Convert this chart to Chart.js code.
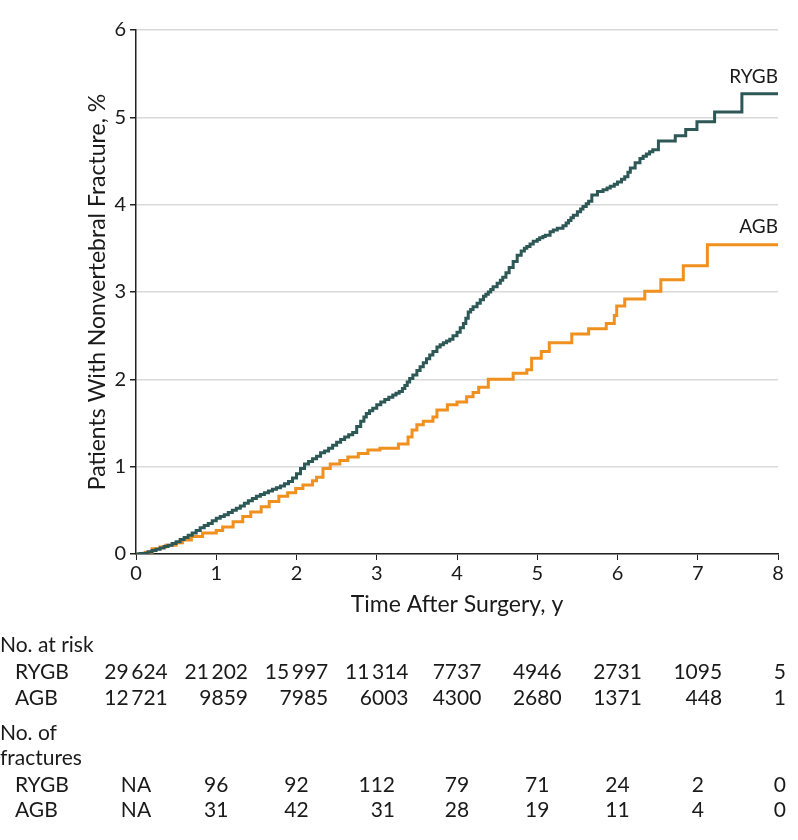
<!DOCTYPE html>
<html>
<head>
<meta charset="utf-8">
<script src="https://cdn.jsdelivr.net/npm/chart.js@4"></script>
<style>
  html, body { margin: 0; padding: 0; background: #fff; }
  #wrap { width: 798px; height: 840px; }
</style>
</head>
<body>
<div id="wrap"><canvas id="km-chart"></canvas></div>
<script>
// Cumulative incidence steps (time in years, percent)
const rygbTime = [0, 0.05, 0.1, 0.15, 0.2, 0.25, 0.3, 0.35, 0.4, 0.45, 0.5, 0.55, 0.6, 0.65, 0.7, 0.75, 0.8, 0.85, 0.9, 0.95,
  1.0, 1.05, 1.1, 1.15, 1.2, 1.25, 1.3, 1.35, 1.4, 1.45, 1.5, 1.55, 1.6, 1.65, 1.7, 1.75, 1.8, 1.85, 1.9, 1.95,
  2.0, 2.05, 2.1, 2.15, 2.2, 2.25, 2.3, 2.35, 2.4, 2.45, 2.5, 2.55, 2.6, 2.65, 2.7, 2.75, 2.8, 2.84, 2.87, 2.91, 2.95,
  3.0, 3.05, 3.1, 3.15, 3.2, 3.24, 3.28, 3.32, 3.35, 3.38, 3.41, 3.45, 3.5, 3.54, 3.58, 3.62, 3.66, 3.7, 3.75, 3.79,
  3.83, 3.87, 3.91, 3.95, 4.0, 4.04, 4.08, 4.11, 4.14, 4.17, 4.2, 4.25, 4.29, 4.33, 4.36, 4.39, 4.42, 4.45, 4.5, 4.54,
  4.57, 4.61, 4.65, 4.7, 4.75, 4.8, 4.84, 4.87, 4.91, 4.95, 5.0, 5.03, 5.07, 5.1, 5.16, 5.2, 5.25, 5.32, 5.36, 5.39,
  5.42, 5.45, 5.5, 5.54, 5.57, 5.61, 5.64, 5.68, 5.75, 5.82, 5.87, 5.91, 5.96, 6.0, 6.05, 6.09, 6.13, 6.16, 6.22,
  6.28, 6.32, 6.36, 6.4, 6.44, 6.51, 6.72, 6.85, 6.99, 7.21, 7.55, 8.0];
const rygbPct = [0, 0.005, 0.01, 0.025, 0.04, 0.055, 0.07, 0.085, 0.1, 0.12, 0.14, 0.165, 0.19, 0.215, 0.24, 0.27, 0.3, 0.325, 0.35, 0.38,
  0.41, 0.43, 0.45, 0.475, 0.5, 0.525, 0.55, 0.58, 0.61, 0.635, 0.66, 0.68, 0.7, 0.72, 0.74, 0.76, 0.78, 0.805, 0.83, 0.87,
  0.92, 0.98, 1.03, 1.06, 1.09, 1.12, 1.16, 1.18, 1.21, 1.245, 1.28, 1.31, 1.34, 1.365, 1.39, 1.46, 1.52, 1.57, 1.61, 1.64, 1.67,
  1.71, 1.74, 1.77, 1.795, 1.82, 1.84, 1.86, 1.895, 1.93, 1.97, 2.01, 2.05, 2.1, 2.145, 2.19, 2.235, 2.28, 2.32, 2.37, 2.395,
  2.42, 2.44, 2.46, 2.5, 2.54, 2.59, 2.64, 2.7, 2.77, 2.8, 2.83, 2.87, 2.91, 2.95, 2.975, 3.0, 3.03, 3.06, 3.1, 3.135,
  3.17, 3.22, 3.28, 3.35, 3.42, 3.47, 3.5, 3.52, 3.55, 3.58, 3.6, 3.62, 3.635, 3.65, 3.69, 3.71, 3.73, 3.76, 3.79, 3.82,
  3.85, 3.88, 3.92, 3.95, 3.98, 4.01, 4.04, 4.11, 4.15, 4.17, 4.19, 4.21, 4.235, 4.26, 4.29, 4.32, 4.37, 4.42, 4.48,
  4.53, 4.555, 4.58, 4.605, 4.63, 4.73, 4.79, 4.86, 4.95, 5.06, 5.27, 5.27];

const agbTime = [0, 0.12, 0.2, 0.3, 0.37, 0.5, 0.58, 0.69, 0.83, 1.0, 1.08, 1.21, 1.33, 1.43, 1.56, 1.66, 1.78, 1.89, 1.99,
  2.08, 2.2, 2.25, 2.33, 2.42, 2.54, 2.64, 2.77, 2.89, 3.04, 3.27, 3.39, 3.44, 3.5, 3.58, 3.7, 3.75, 3.88, 4.0, 4.12,
  4.2, 4.27, 4.39, 4.7, 4.87, 4.93, 5.05, 5.15, 5.43, 5.64, 5.86, 5.96, 5.99, 6.09, 6.34, 6.54, 6.82, 7.12, 8.0];
const agbPct = [0, 0.02, 0.06, 0.08, 0.1, 0.13, 0.16, 0.2, 0.24, 0.27, 0.31, 0.37, 0.43, 0.48, 0.54, 0.6, 0.66, 0.7, 0.75,
  0.79, 0.84, 0.88, 0.98, 1.03, 1.07, 1.11, 1.15, 1.19, 1.21, 1.26, 1.34, 1.42, 1.48, 1.52, 1.57, 1.65, 1.71, 1.74, 1.8,
  1.85, 1.91, 2.0, 2.07, 2.11, 2.24, 2.32, 2.42, 2.52, 2.58, 2.64, 2.73, 2.84, 2.92, 3.01, 3.14, 3.3, 3.54, 3.54];

// Table below the plot
const tableYears = [0, 1, 2, 3, 4, 5, 6, 7, 8];
const riskRYGB = [29624, 21202, 15997, 11314, 7737, 4946, 2731, 1095, 5];
const riskAGB = [12721, 9859, 7985, 6003, 4300, 2680, 1371, 448, 1];
const fracRYGB = ['NA', 96, 92, 112, 79, 71, 24, 2, 0];
const fracAGB = ['NA', 31, 42, 31, 28, 19, 11, 4, 0];

const RYGB_COLOR = '#2d5855';
const AGB_COLOR = '#f0901f';
const FONT = 'Lato';
const TEXT = '#1a1a1a';

function fmt(n) {
  if (typeof n !== 'number') return n;
  const s = String(n);
  return s.length >= 5 ? s.slice(0, s.length - 3) + '\u2009' + s.slice(-3) : s;
}

const toPoints = (t, v) => t.map((x, i) => ({ x, y: v[i] }));

const annotations = {
  id: 'annotations',
  afterDraw(chart) {
    const { ctx, scales: { x, y } } = chart;
    ctx.save();
    ctx.fillStyle = TEXT;
    ctx.textBaseline = 'middle';

    // series labels at end of curves
    ctx.font = `19px "${FONT}"`;
    ctx.textAlign = 'right';
    ctx.fillText('RYGB', x.getPixelForValue(8), y.getPixelForValue(rygbPct[rygbPct.length - 1]) - 17);
    ctx.fillText('AGB', x.getPixelForValue(8), y.getPixelForValue(agbPct[agbPct.length - 1]) - 18);

    // row labels
    ctx.font = `21px "${FONT}"`;
    ctx.textAlign = 'left';
    [['No. at risk', 645, 0], ['RYGB', 672, 15], ['AGB', 698, 15], ['No. of', 733, 0],
     ['fractures', 758, 0], ['RYGB', 785, 15], ['AGB', 810, 15]].forEach(([t, py, px]) => ctx.fillText(t, px, py));

    // value columns: the pair is right-aligned, centred on the tick by its wider entry
    const drawPair = (top, bottom, yTop, yBottom) => {
      tableYears.forEach((yr, i) => {
        const px = x.getPixelForValue(yr);
        const a = fmt(top[i]), b = fmt(bottom[i]);
        if (a === 'NA') {
          ctx.textAlign = 'center';
          ctx.fillText(a, px, yTop);
          ctx.fillText(b, px, yBottom);
          return;
        }
        const w = Math.max(ctx.measureText(a).width, ctx.measureText(b).width);
        const right = i === tableYears.length - 1 ? px + 8 : px + w / 2;
        ctx.textAlign = 'right';
        ctx.fillText(a, right, yTop);
        ctx.fillText(b, right, yBottom);
      });
    };
    drawPair(riskRYGB, riskAGB, 672, 698);
    drawPair(fracRYGB, fracAGB, 785, 810);
    ctx.restore();
  }
};

new Chart(document.getElementById('km-chart'), {
  type: 'line',
  data: {
    datasets: [
      {
        label: 'RYGB',
        data: toPoints(rygbTime, rygbPct),
        borderColor: RYGB_COLOR,
        borderWidth: 3,
        stepped: 'before',
        pointRadius: 0,
        fill: false
      },
      {
        label: 'AGB',
        data: toPoints(agbTime, agbPct),
        borderColor: AGB_COLOR,
        borderWidth: 3,
        stepped: 'before',
        pointRadius: 0,
        fill: false
      }
    ]
  },
  options: {
    responsive: true,
    maintainAspectRatio: false,
    animation: false,
    layout: { padding: { top: 30, right: 20, bottom: 222, left: 84 } },
    plugins: {
      legend: { display: false },
      tooltip: { enabled: false }
    },
    scales: {
      x: {
        type: 'linear',
        min: 0,
        max: 8,
        ticks: { stepSize: 1, color: TEXT, font: { family: FONT, size: 20 }, padding: 2 },
        grid: { drawOnChartArea: false, tickLength: 6, tickColor: '#222' },
        border: { color: '#222', width: 1.5 },
        title: {
          display: true,
          text: 'Time After Surgery, y',
          color: TEXT,
          font: { family: FONT, size: 23 },
          padding: 0
        },
        afterFit: s => { s.height = 64; }
      },
      y: {
        min: 0,
        max: 6,
        ticks: { stepSize: 1, color: TEXT, font: { family: FONT, size: 20 }, padding: 4 },
        grid: { color: '#d9d9d9', lineWidth: 1.5, tickLength: 6, tickColor: '#222' },
        border: { color: '#222', width: 1.5 },
        title: {
          display: true,
          text: 'Patients With Nonvertebral Fracture, %',
          color: TEXT,
          font: { family: FONT, size: 23 },
          padding: 0
        },
        afterFit: s => { s.width = 52; }
      }
    }
  },
  plugins: [annotations]
});
</script>
</body>
</html>
